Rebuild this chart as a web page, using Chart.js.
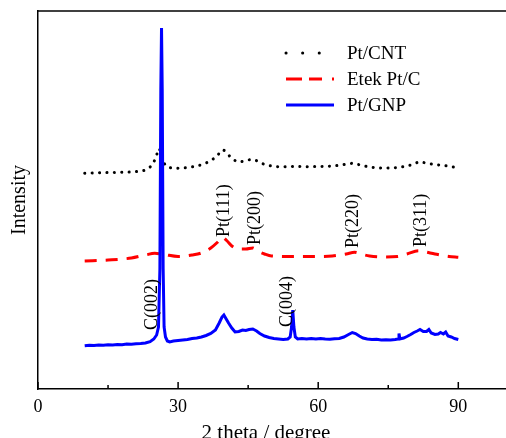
<!DOCTYPE html>
<html>
<head>
<meta charset="utf-8">
<script src="https://cdn.jsdelivr.net/npm/chart.js@4"></script>
<style>
  html, body { margin: 0; padding: 0; background: #fff; overflow: hidden; }
  #wrap { width: 506px; height: 438px; overflow: hidden; }
</style>
</head>
<body>
<div id="wrap"><canvas id="xrd" width="512" height="438"></canvas></div>
<script>
// XRD patterns, intensity in arbitrary units (offset traces)
const seriesNames = ['Pt/CNT', 'Etek Pt/C', 'Pt/GNP'];

const cntTheta = [10, 12, 14, 16, 18, 20, 22, 23, 24, 24.8, 25.4, 25.9, 26.4, 27, 27.8, 29, 30, 32, 34, 36, 37.5, 38.5, 39.5, 40.2, 41, 42, 43, 44.5, 46, 47, 48, 50, 52, 55, 58, 60, 63, 65, 67.5, 69, 71, 74, 77, 79, 80.5, 81.8, 83, 85, 87, 89, 90];
const cntIntensity = [215.7, 216, 216.3, 216.5, 216.8, 217, 218, 219, 222, 227, 234, 240.5, 234, 226, 222, 221, 220.7, 221.5, 223, 226, 230, 234, 239, 237.5, 233, 229, 227, 228.5, 229.5, 228, 225.5, 223, 222.3, 222.5, 222.3, 222.5, 223, 224, 225.7, 224, 222, 221, 221.5, 223, 225, 227.3, 226, 224.5, 223.5, 222, 221.3];

const etekTheta = [10, 15, 20, 23, 25, 27, 30, 33, 35, 37, 38.5, 39.5, 40.5, 41.5, 43, 44.5, 46, 47, 48.5, 50, 55, 60, 63, 66, 67.8, 69.5, 71, 74, 77, 79, 81.5, 83, 85, 88, 90];
const etekIntensity = [128, 129, 131, 134, 135.7, 134.5, 132.5, 134, 136, 141, 147, 151.7, 148, 143, 140, 140, 141, 138, 135, 133, 132.5, 132.5, 133, 135, 136.7, 134.5, 133, 132, 132.5, 135, 138.3, 137, 135, 132.5, 131.7];

const gnpTheta = [10, 11, 12, 13, 14, 15, 16, 17, 18, 19, 20, 21, 22, 23, 24, 24.8, 25.4, 25.8, 26.1, 26.3, 26.45, 26.6, 26.8, 27, 27.3, 27.7, 28.2, 29, 30, 31, 32, 33, 34, 35, 36, 37, 38, 38.8, 39.4, 39.8, 40.3, 40.8, 41.5, 42.2, 43, 43.8, 44.5, 45.2, 46, 46.8, 47.5, 48.5, 49.5, 50.5, 51.5, 52.5, 53.5, 54, 54.3, 54.55, 54.8, 55.1, 55.6, 56.5, 57.5, 58.5, 59.5, 60.5, 61.5, 62.5, 63.5, 64.5, 65.5, 66.5, 67.3, 68, 68.8, 69.6, 70.5, 71.5, 72.5, 73.5, 74.5, 75.5, 76.5, 77.1, 77.3, 77.5, 78.3, 79, 79.8, 80.5, 81.2, 81.8, 82.5, 83.2, 83.7, 84.2, 85, 85.7, 86.2, 86.8, 87.3, 87.8, 88.5, 89.2, 90];
const gnpIntensity = [43.3, 43.8, 43.5, 44, 43.7, 44.2, 44, 44.5, 44.3, 45, 44.8, 45.2, 45.5, 46, 47.3, 50, 54, 62, 120, 300, 361, 300, 120, 62, 52, 48, 47, 48, 48.5, 49, 49.5, 50.5, 51, 52, 53.5, 55.5, 59, 66, 72, 74, 70, 66, 61, 57, 57.5, 59, 58.5, 59.5, 60, 58, 55.5, 53, 51.5, 50.5, 50, 49.5, 50, 52, 62, 79, 62, 52, 50, 50.5, 50, 50.5, 50, 50.5, 50, 49.8, 50.2, 50.5, 52, 54.5, 56.5, 55.5, 53, 51, 50, 49.5, 49.7, 49, 49.3, 49, 49.5, 50, 55.5, 50, 51, 52.5, 54.5, 56.5, 58, 59.5, 57.5, 57.5, 59.5, 56, 54.5, 55, 56.5, 55, 57, 53, 52, 50.5, 49.5];

// peak labels
const peakLabels = ['Pt(111)', 'Pt(200)', 'Pt(220)', 'Pt(311)', 'C(002)', 'C(004)'];
const peakTheta = [39.9, 46.6, 67.6, 82.1, 24.5, 53.4];
const peakY = [152, 144, 141, 142, 59, 62];

const xTicks = [0, 15, 30, 45, 60, 75, 90];

const serif = '"Liberation Serif", "Times New Roman", serif';

function pts(xs, ys) {
    return xs.map((x, i) => ({ x: x, y: ys[i] }));
}

// frame, inward ticks, axis titles, peak labels and legend
const decorations = {
    id: 'decorations',
    afterDraw(chart) {
        const ctx = chart.ctx;
        const area = chart.chartArea;
        const xs = chart.scales.x;
        const ys = chart.scales.y;
        ctx.save();
        ctx.strokeStyle = '#000';
        ctx.lineWidth = 1.5;
        ctx.beginPath();
        ctx.moveTo(area.left, area.top);
        ctx.lineTo(area.right + 2, area.top);
        ctx.stroke();

        xTicks.forEach(v => {
            const px = xs.getPixelForValue(v);
            const len = v % 30 === 0 ? 7 : 4;
            ctx.beginPath();
            ctx.moveTo(px, area.bottom);
            ctx.lineTo(px, area.bottom - len);
            ctx.stroke();
        });

        ctx.fillStyle = '#000';
        ctx.font = '21px ' + serif;
        ctx.textAlign = 'center';
        ctx.textBaseline = 'alphabetic';
        ctx.fillText('2 theta / degree', 266, 439);

        ctx.save();
        ctx.translate(20, (area.top + area.bottom) / 2);
        ctx.rotate(-Math.PI / 2);
        ctx.font = '20px ' + serif;
        ctx.textBaseline = 'middle';
        ctx.fillText('Intensity', 0, 0);
        ctx.restore();

        ctx.font = '18px ' + serif;
        peakLabels.forEach((t, i) => {
            ctx.save();
            ctx.translate(xs.getPixelForValue(peakTheta[i]), ys.getPixelForValue(peakY[i]));
            ctx.rotate(-Math.PI / 2);
            ctx.textAlign = 'left';
            ctx.textBaseline = 'middle';
            ctx.fillText(t, 0, 0);
            ctx.restore();
        });

        // legend
        const legendY = [53, 79, 105];
        const legendColor = ['#000', '#ff0000', '#0000ff'];
        const legendDash = [[0.1, 16.5], [16, 7, 13, 10], []];
        const legendCap = ['round', 'butt', 'butt'];
        ctx.font = '19px ' + serif;
        ctx.textAlign = 'left';
        ctx.textBaseline = 'middle';
        seriesNames.forEach((name, i) => {
            ctx.beginPath();
            ctx.strokeStyle = legendColor[i];
            ctx.lineWidth = 3;
            ctx.lineCap = legendCap[i];
            ctx.setLineDash(legendDash[i]);
            ctx.moveTo(286, legendY[i]);
            ctx.lineTo(334, legendY[i]);
            ctx.stroke();
            ctx.setLineDash([]);
            ctx.fillStyle = '#000';
            ctx.fillText(name, 347, legendY[i] + 1);
        });
        ctx.restore();
    }
};

new Chart(document.getElementById('xrd'), {
    type: 'line',
    data: {
        datasets: [{
            label: seriesNames[0],
            data: pts(cntTheta, cntIntensity),
            borderColor: '#000',
            borderWidth: 3,
            borderDash: [0.1, 7.3],
            borderCapStyle: 'round',
            cubicInterpolationMode: 'monotone',
            pointRadius: 0,
            order: 2
        }, {
            label: seriesNames[1],
            data: pts(etekTheta, etekIntensity),
            borderColor: '#ff0000',
            borderWidth: 3,
            borderDash: [12, 9],
            cubicInterpolationMode: 'monotone',
            pointRadius: 0,
            order: 1
        }, {
            label: seriesNames[2],
            data: pts(gnpTheta, gnpIntensity),
            borderColor: '#0000ff',
            borderWidth: 3,
            tension: 0,
            pointRadius: 0,
            order: 0
        }]
    },
    options: {
        responsive: false,
        animation: false,
        devicePixelRatio: 1,
        layout: { padding: { top: 11, right: 2, left: 0, bottom: 0 } },
        plugins: { legend: { display: false }, tooltip: { enabled: false } },
        scales: {
            x: {
                type: 'linear',
                min: 0,
                max: 100,
                afterFit(scale) { scale.height = 49; },
                grid: { display: false, drawTicks: false },
                border: { display: true, color: '#000', width: 1.5 },
                ticks: {
                    stepSize: 15,
                    padding: 7,
                    color: '#000',
                    maxRotation: 0,
                    font: { family: serif, size: 18 },
                    callback: v => (v % 30 === 0 && v <= 90) ? String(v) : ''
                }
            },
            y: {
                type: 'linear',
                min: 0,
                max: 378,
                afterFit(scale) { scale.width = 38; },
                grid: { display: false, drawTicks: false },
                border: { display: true, color: '#000', width: 1.5 },
                ticks: { display: false }
            }
        }
    },
    plugins: [decorations]
});
</script>
</body>
</html>
